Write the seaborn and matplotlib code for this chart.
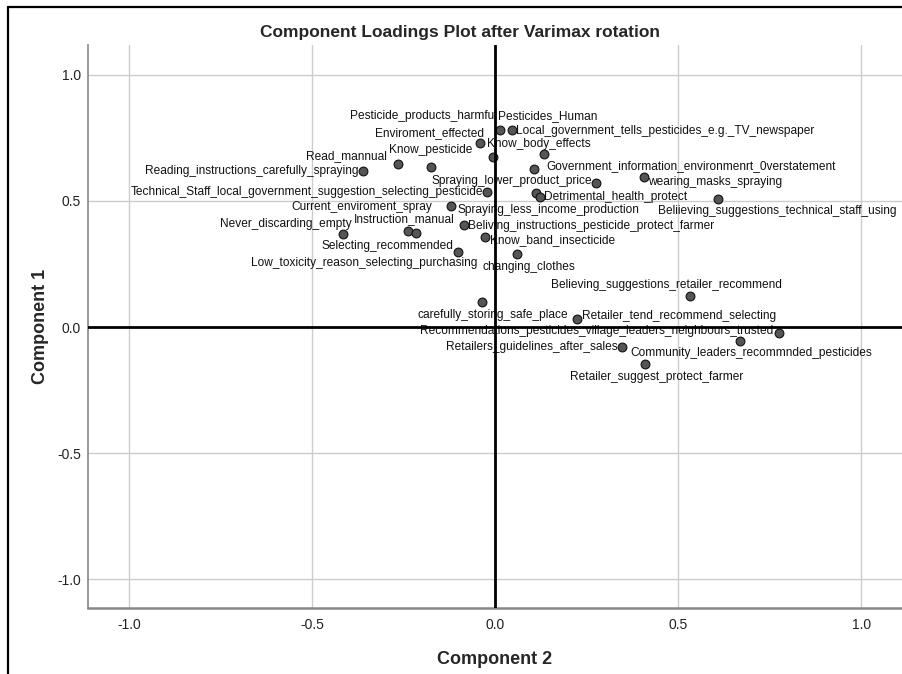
import pandas as pd
import matplotlib
matplotlib.use("Agg")
import matplotlib.pyplot as plt
import seaborn as sns
from matplotlib.lines import Line2D

# Rotated component loadings
variables = [
    "Reading_instructions_carefully_spraying",
    "Read_mannual",
    "Know_pesticide",
    "Enviroment_effected",
    "Pesticide_products_harmful",
    "Pesticides_Human",
    "Local_government_tells_pesticides_e.g._TV_newspaper",
    "Know_body_effects",
    "Government_information_environmenrt_0verstatement",
    "Spraying_lower_product_price",
    "wearing_masks_spraying",
    "Technical_Staff_local_government_suggestion_selecting_pesticide",
    "Spraying_less_income_production",
    "Detrimental_health_protect",
    "Beliieving_suggestions_technical_staff_using",
    "Current_enviroment_spray",
    "Instruction_manual",
    "Low_toxicity_reason_selecting_purchasing",
    "Never_discarding_empty",
    "Beliving_instructions_pesticide_protect_farmer",
    "Know_band_insecticide",
    "Selecting_recommended",
    "changing_clothes",
    "Believing_suggestions_retailer_recommend",
    "carefully_storing_safe_place",
    "Retailer_tend_recommend_selecting",
    "Recommendations_pesticides_village_leaders_neighbours_trusted",
    "Community_leaders_recommnded_pesticides",
    "Retailers_guidelines_after_sales",
    "Retailer_suggest_protect_farmer",
]
component_1 = [0.617, 0.645, 0.634, 0.729, 0.673, 0.780, 0.780, 0.685, 0.626, 0.570,
               0.594, 0.535, 0.531, 0.515, 0.507, 0.479, 0.380, 0.372, 0.368, 0.404,
               0.356, 0.297, 0.289, 0.123, 0.099, 0.032, -0.024, -0.055, -0.079, -0.147]
component_2 = [-0.361, -0.266, -0.176, -0.042, -0.007, 0.012, 0.045, 0.133, 0.105, 0.275,
               0.406, -0.023, 0.111, 0.122, 0.608, -0.122, -0.239, -0.217, -0.417, -0.086,
               -0.029, -0.102, 0.059, 0.531, -0.037, 0.223, 0.775, 0.668, 0.346, 0.408]

# where each label sits relative to its point: (align, dx px, dy px up)
label_place = [
    ("right", -5, 0), ("right", -11, 8), ("center", 0, 17), ("right", 4, 10),
    ("right", 4, 41), ("left", -2, 14), ("left", 4, -1), ("center", -5, 10),
    ("left", 13, 3), ("right", -4, 2), ("left", 4, -5), ("right", -4, 0),
    ("left", -78, -17), ("left", 4, 0), ("left", -60, -12), ("right", -18, -1),
    ("center", -4, 12), ("center", -52, -30), ("right", 9, 10), ("left", 4, -1),
    ("left", 5, -3), ("right", -5, 6), ("center", 12, -13), ("center", -23, 11),
    ("center", 11, -13), ("left", 5, 3), ("right", -6, 2), ("center", 11, -12),
    ("right", -4, 0), ("center", 12, -13),
]

df = pd.DataFrame({"Variable": variables,
                   "Component 1": component_1,
                   "Component 2": component_2})

sns.set_style("white")
plt.rcParams["font.family"] = ["Liberation Sans", "DejaVu Sans"]

fig = plt.figure(figsize=(9.02, 6.74), dpi=100)
ax = fig.add_axes([88 / 902, 66 / 674, 814 / 902, 563 / 674])

sns.scatterplot(data=df, x="Component 2", y="Component 1", ax=ax,
                s=40, color="#555555", edgecolor="#111111", linewidth=0.8, zorder=5)

for name, x, y, (ha, dx, dy) in zip(variables, component_2, component_1, label_place):
    kw = {}
    if name == "Pesticides_Human":
        kw["bbox"] = dict(facecolor="white", edgecolor="none", pad=0.5)
    ax.annotate(name, (x, y), xytext=(dx, dy), textcoords="offset pixels",
                ha=ha, va="center", fontsize=8.6, color="#111111", zorder=4, **kw)

ax.axhline(0, color="black", lw=2, zorder=7)
ax.axvline(0, color="black", lw=2, zorder=7)

ax.set_xlim(-1.113, 1.111)
ax.set_ylim(-1.113, 1.117)
ticks = [-1.0, -0.5, 0.0, 0.5, 1.0]
ax.set_xticks(ticks)
ax.set_yticks(ticks)
ax.set_xticklabels(["-1.0", "-0.5", "0.0", "0.5", "1.0"])
ax.set_yticklabels(["-1.0", "-0.5", "0.0", "0.5", "1.0"])
ax.grid(True, color="#cccccc", lw=1, zorder=0)
ax.tick_params(length=0, labelsize=10, labelcolor="#222222")
ax.tick_params(axis="x", pad=7)
ax.tick_params(axis="y", pad=5)

for side in ["top", "right"]:
    ax.spines[side].set_visible(False)
ax.spines["left"].set_color("#888888")
ax.spines["left"].set_linewidth(1.2)
ax.spines["bottom"].set_color("#888888")
ax.spines["bottom"].set_linewidth(1.8)

ax.set_xlabel("Component 2", fontsize=13, fontweight="bold", labelpad=14)
ax.set_ylabel("Component 1", fontsize=13, fontweight="bold", labelpad=6)

fig.text(460 / 902, 1 - 33 / 674, "Component Loadings Plot after Varimax rotation",
         ha="center", va="center", fontsize=12.5, fontweight="bold")

# outer frame of the SPSS chart window
fig.add_artist(Line2D([8 / 902, 8 / 902], [0, 1 - 7 / 674], color="black", lw=1.6))
fig.add_artist(Line2D([8 / 902, 1], [1 - 7 / 674, 1 - 7 / 674], color="black", lw=1.6))

fig.savefig("out.png", dpi=100)
